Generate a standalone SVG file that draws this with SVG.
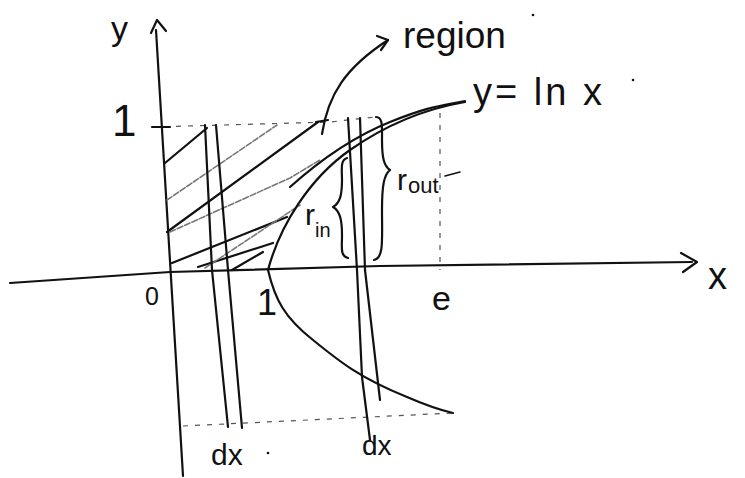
<svg xmlns="http://www.w3.org/2000/svg" width="745" height="478" viewBox="0 0 745 478">
<style>
.ink{fill:none;stroke:#111;stroke-width:2.2;stroke-linecap:round;stroke-linejoin:round}
.thin{fill:none;stroke:#111;stroke-width:1.6;stroke-linecap:round}
.gray{fill:none;stroke:#777;stroke-width:1.6;stroke-dasharray:6 2;stroke-linecap:round}
.dash{fill:none;stroke:#555;stroke-width:1.2;stroke-dasharray:5 7}
text{font-family:"Liberation Sans",Arial,sans-serif;fill:#111}
</style>
<rect width="745" height="478" fill="#fff"/>
<g id="axes">
<path class="ink" d="M156,30 L183,476"/>
<path class="ink" d="M151,33 L157,20 L166,31"/>
<path class="ink" d="M10,283 L170,272 L380,266 L692,262"/>
<path class="ink" d="M681,253 L697,262 L683,272"/>
</g>
<g id="guides">
<path class="dash" d="M152,127 L330,122 L375,117"/>
<path class="ink" d="M152,127 L170,127"/>
<path class="dash" d="M440,113 L440,270"/>
<path class="dash" d="M183,426 L453,413"/>
</g>
<g id="hatching">
<path class="ink" d="M165,163 L207,128"/>
<path class="gray" d="M167,200 L277,125"/>
<path class="ink" d="M167,232 L318,122"/>
<path class="gray" d="M170,232 L290,178 L320,160"/>
<path class="ink" d="M172,263 L287,217"/>
<path class="ink" d="M198,267 L273,243"/>
<path class="gray" d="M205,268 L300,205"/>
<path class="ink" d="M232,270 L263,252"/>
</g>
<g id="curves">
<path class="ink" d="M268,270 C280,225 310,178 350,150 S430,108 465,102"/>
<path class="ink" d="M290,187 C318,162 350,138 390,122 S440,106 465,101"/>
<path class="ink" d="M268,270 C275,300 285,318 313,340 C340,362 360,378 407,397 C430,407 440,410 453,413"/>
</g>
<g id="strips">
<path class="ink" d="M205,125 L212,270 L228,427"/>
<path class="ink" d="M216,125 L228,270 L242,428"/>
<path class="ink" d="M348,118 L357,270 L362,377 L370,440"/>
<path class="ink" d="M360,118 L365,270 L380,400"/>
</g>
<g id="braces">
<path class="ink" d="M347,158 C340,160 342,170 342,180 C342,195 340,203 333,207 C340,211 342,220 342,235 C342,248 340,256 348,258"/>
<path class="ink" d="M376,117 C383,117 382,127 382,140 C382,158 384,166 390,170 C384,175 382,185 382,210 C382,240 384,258 374,260"/>
</g>
<g id="region-arrow">
<path class="ink" d="M322,134 C328,95 345,68 388,40"/>
<path class="ink" d="M377,36 L388,40 L381,50"/>
<path class="ink" d="M316,122 L328,120"/>
</g>
<g id="labels">
<text x="111" y="40" font-size="34">y</text>
<text x="112" y="136" font-size="44">1</text>
<text x="145" y="305" font-size="25">0</text>
<text x="257" y="315" font-size="36">1</text>
<text x="432" y="310" font-size="34">e</text>
<text x="708" y="289" font-size="38">x</text>
<text x="403" y="48" font-size="37">region</text>
<circle cx="533" cy="15" r="1.3" fill="#111"/>
<text x="473" y="105" font-size="38" letter-spacing="3">y= ln x</text>
<circle cx="633" cy="80" r="1.3" fill="#111"/>
<text x="305" y="225" font-size="30">r</text>
<text x="315" y="237" font-size="20">in</text>
<text x="397" y="190" font-size="30">r</text>
<text x="408" y="193" font-size="22">out</text>
<path class="thin" d="M445,176 L460,172"/>
<text x="211" y="465" font-size="30">dx</text>
<circle cx="268" cy="453" r="1.3" fill="#111"/>
<text x="362" y="455" font-size="28">dx</text>
</g>
</svg>
